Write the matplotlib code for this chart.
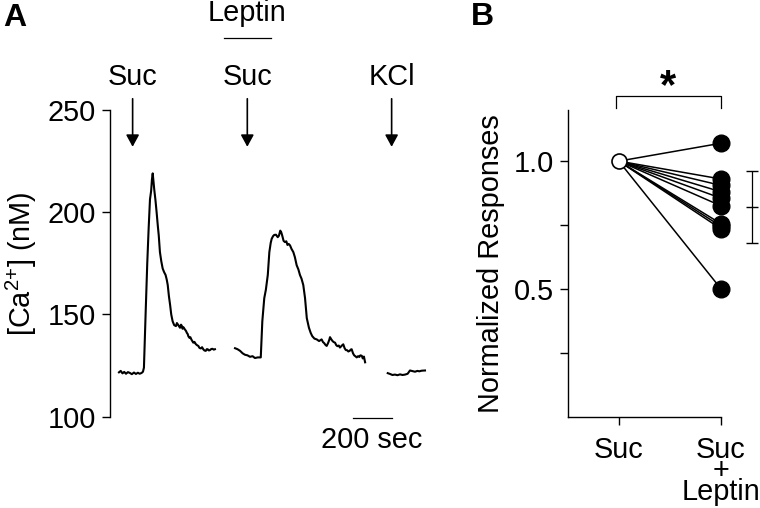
import matplotlib
matplotlib.use("Agg")
import matplotlib.pyplot as plt
import numpy as np

plt.rcParams['font.family'] = ['Liberation Sans', 'DejaVu Sans']
plt.rcParams['mathtext.fontset'] = 'custom'
plt.rcParams['mathtext.rm'] = 'Liberation Sans'

# ---------------- Panel A data: [Ca2+] trace (time in s, value in nM) ----------------
seg1_t = [0, 9, 18, 27, 36, 46, 56, 66, 77, 87,
          97, 106, 116, 123, 128, 137, 145, 152, 159, 165,
          169, 173, 177, 181, 187, 193, 199, 204, 210, 217,
          224, 231, 239, 245, 250, 256, 262, 268, 275, 283,
          292, 297, 303, 308, 313, 318, 322, 326, 330, 337,
          344, 348, 352, 356, 361, 366, 371, 376, 381, 387,
          394, 400, 407, 413, 420, 426, 432, 438, 445, 450,
          455, 461, 467, 473, 480, 486, 492]
seg1_v = [121.7, 122.4, 121.2, 121.9, 121.0, 121.8, 121.4, 120.8, 121.6, 120.9,
          121.5, 121.0, 121.4, 122.0, 124.0, 151.5, 175.0, 191.8, 206.3, 210.5,
          216.0, 219.0, 215.0, 211.0, 206.0, 200.0, 193.5, 188.6, 180.5, 176.0,
          172.5, 170.8, 169.3, 167.0, 164.4, 159.0, 154.8, 150.0, 146.7, 144.8,
          144.3, 145.8, 145.0, 144.2, 143.5, 145.0, 144.5, 143.0, 143.8, 142.8,
          141.9, 141.0, 140.5, 139.3, 138.6, 138.9, 137.8, 137.0, 136.2, 136.6,
          135.5, 135.0, 134.6, 133.6, 133.4, 134.0, 133.0, 132.4, 132.2, 133.0,
          133.0, 132.4, 132.6, 133.1, 133.2, 132.8, 133.0]

seg2_t = [595, 608, 621, 634, 646, 659, 672, 685, 697, 712,
          727, 735, 745, 753, 763, 771, 778, 783, 790, 796,
          805, 814, 820, 827, 832, 837, 844, 851, 858, 864,
          870, 877, 885, 894, 902, 911, 920, 928, 936, 945,
          954, 963, 974, 983, 991, 1002, 1014, 1026, 1039, 1046,
          1052, 1058, 1065, 1072, 1078, 1082, 1089, 1095, 1101, 1108,
          1114, 1120, 1127, 1133, 1140, 1145, 1150, 1157, 1163, 1170,
          1176, 1183, 1188, 1193, 1200, 1206, 1213, 1219, 1226, 1232,
          1238, 1245, 1250, 1256, 1262]
seg2_v = [133.5, 133.0, 132.2, 131.0, 130.3, 130.0, 129.3, 129.6, 128.7, 129.0,
          129.0, 146.7, 158.0, 162.0, 169.3, 180.5, 185.0, 187.0, 188.3, 188.9,
          189.0, 187.8, 188.5, 191.0, 190.2, 188.6, 186.0, 185.4, 185.8, 184.0,
          184.5, 183.8, 182.0, 180.5, 178.0, 174.1, 172.0, 169.3, 167.5, 164.4,
          158.0, 148.2, 143.5, 141.0, 139.4, 138.2, 137.8, 137.0, 137.8, 136.5,
          136.0, 135.2, 134.6, 136.0, 137.5, 138.9, 137.8, 137.0, 136.5, 136.2,
          135.0, 134.5, 134.8, 133.8, 134.5, 135.0, 135.4, 133.5, 132.6, 132.5,
          131.9, 132.2, 132.8, 133.0, 131.0, 130.0, 129.5, 129.0, 129.6, 129.2,
          130.0, 129.8, 128.5, 129.4, 126.6]

seg3_t = [1378, 1390, 1402, 1415, 1428, 1441, 1454, 1467, 1480, 1492, 1505, 1518, 1530, 1540, 1552, 1569]
seg3_v = [121.3, 120.9, 120.4, 120.6, 120.3, 120.7, 120.4, 120.6, 121.0, 122.6, 122.3, 122.0, 122.4, 122.2,
          122.5, 122.6]

stim_times = [70, 658, 1398]
stim_labels = ['Suc', 'Suc', 'KCl']
leptin_span = [538, 778]
scalebar_t = [1198, 1398]

# ---------------- Panel B data ----------------
suc_val = 1.0
leptin_vals = [1.07, 0.93, 0.905, 0.88, 0.855, 0.825, 0.755, 0.745, 0.735, 0.50]
mean_val = 0.82
err_val = 0.14
b_categories = ['Suc', 'Suc\n+\nLeptin']

W, H = 760, 508
fig = plt.figure(figsize=(W / 100, H / 100), dpi=100)

FS = 20.8


def fx(px):
    return px / W


def fy(py):
    return 1 - py / H


# ---------------- Panel A ----------------
axA = fig.add_axes([fx(110), fy(416.7), fx(440) - fx(110), fy(110) - fy(416.7)])
for t, v in [(seg1_t, seg1_v), (seg2_t, seg2_v), (seg3_t, seg3_v)]:
    axA.plot(t, v, color='k', lw=1.5, solid_joinstyle='round')
axA.set_xlim(-46, 1646)
axA.set_ylim(100, 250)
axA.set_yticks([100, 150, 200, 250])
axA.tick_params(axis='y', length=6, width=1, labelsize=FS, pad=4, colors='k')
axA.set_xticks([])
for s in ['top', 'right', 'bottom']:
    axA.spines[s].set_visible(False)
axA.spines['left'].set_linewidth(1)
axA.set_ylabel(r'[Ca$^{\mathregular{2{+}}}$] (nM)', fontsize=FS, labelpad=6)

for t, lab in zip(stim_times, stim_labels):
    axA.annotate('', xy=(t, 232), xytext=(t, 255.5), xycoords='data',
                 annotation_clip=False,
                 arrowprops=dict(arrowstyle='-|>,head_length=0.55,head_width=0.3', color='k', lw=1.2,
                                 mutation_scale=13, shrinkA=0, shrinkB=0))
    axA.text(t, 262.3, lab, ha='center', va='baseline', fontsize=FS, clip_on=False)

axA.plot(leptin_span, [285, 285], color='k', lw=0.9, clip_on=False)
axA.text(np.mean(leptin_span), 293.3, 'Leptin', ha='center', va='baseline', fontsize=FS, clip_on=False)

axA.plot(scalebar_t, [99.3, 99.3], color='k', lw=0.9, clip_on=False)
axA.text(np.mean(scalebar_t), 84.7, '200 sec', ha='center', va='baseline', fontsize=FS, clip_on=False)

# ---------------- Panel B ----------------
axB = fig.add_axes([fx(567.7), fy(416.7), fx(721) - fx(567.7), fy(110) - fy(416.7)])
for v in leptin_vals:
    axB.plot([0, 1], [suc_val, v], color='k', lw=1.1, zorder=2, clip_on=False)
axB.plot([1] * len(leptin_vals), leptin_vals, 'o', color='k', ms=12, zorder=3, clip_on=False)
axB.plot([0], [suc_val], 'o', mfc='white', mec='k', mew=1.2, ms=10.8, zorder=4, clip_on=False)
axB.errorbar([1.30], [mean_val], yerr=[err_val], fmt='_', color='k', ms=8, mew=1,
             elinewidth=0.9, capsize=4, capthick=0.9, clip_on=False)
axB.set_xlim(-0.5, 1.0)
axB.set_ylim(0, 1.2)
axB.set_yticks([0.25, 0.5, 0.75, 1.0])
axB.set_yticklabels(['', '0.5', '', '1.0'])
axB.set_xticks([0, 1])
axB.set_xticklabels(b_categories, linespacing=0.68)
axB.tick_params(axis='both', length=6, width=1, labelsize=FS, colors='k')
axB.tick_params(axis='y', pad=4)
axB.tick_params(axis='x', pad=8)
for s in ['top', 'right']:
    axB.spines[s].set_visible(False)
axB.spines['left'].set_linewidth(1)
axB.spines['bottom'].set_linewidth(1)
axB.set_ylabel('Normalized Responses', fontsize=FS, labelpad=6)

# significance bracket
axB.plot([-0.03, -0.03, 1.0, 1.0], [1.206, 1.255, 1.255, 1.206], color='k', lw=0.9, clip_on=False)
axB.text(0.485, 1.29, '*', ha='center', va='center', fontsize=30, fontweight='bold', clip_on=False)

# panel letters
fig.text(fx(15), fy(18), 'A', ha='center', va='center', fontsize=23, fontweight='bold')
fig.text(fx(482), fy(17), 'B', ha='center', va='center', fontsize=23, fontweight='bold')

fig.savefig('out.png', dpi=100)
